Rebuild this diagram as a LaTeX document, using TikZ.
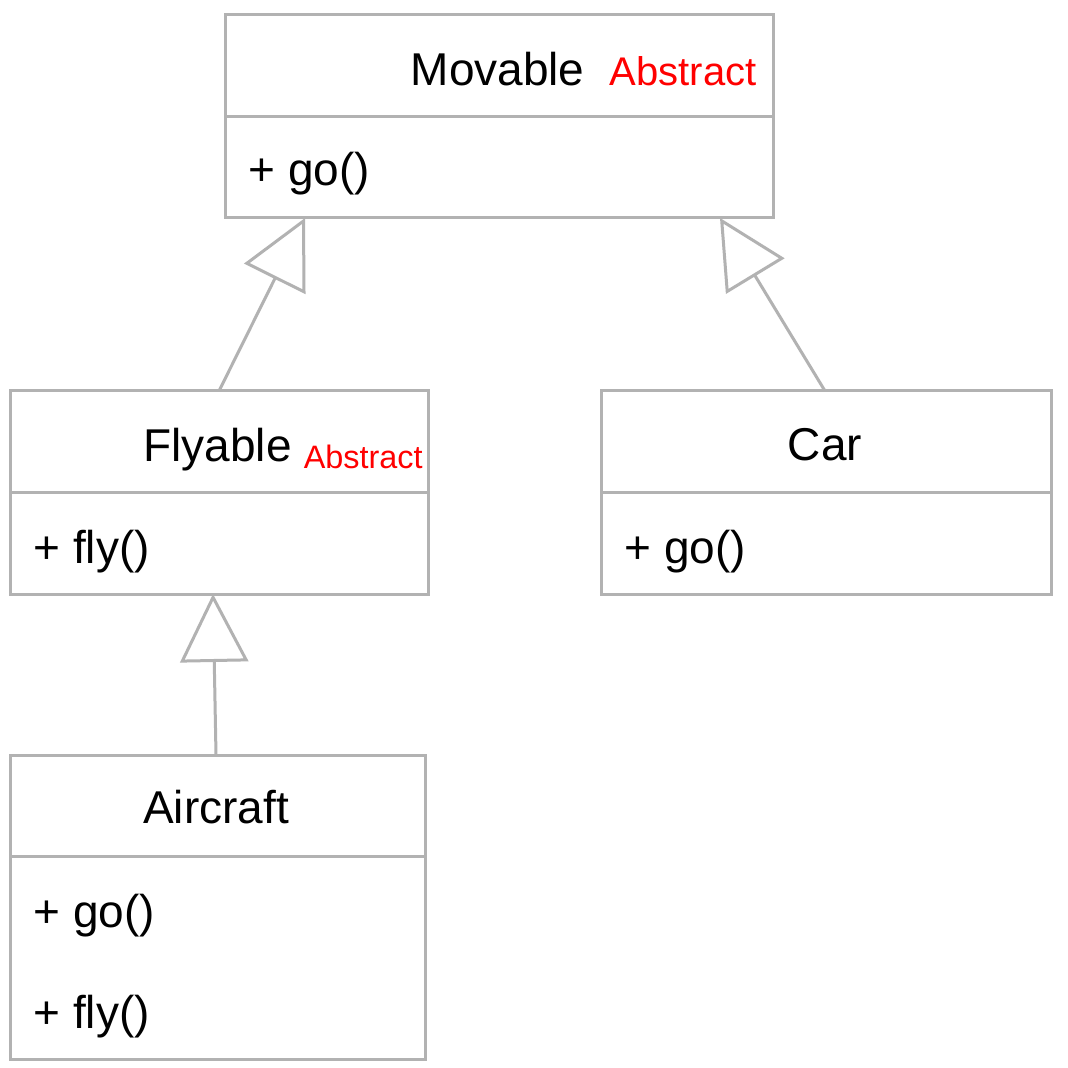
\documentclass[tikz,border=0pt]{standalone}
\usepackage{fontspec}
\setmainfont{Liberation Sans}
\usetikzlibrary{arrows.meta,calc}
\definecolor{umlgray}{RGB}{178,178,178}
\definecolor{absred}{RGB}{255,0,0}
\begin{document}
\begin{tikzpicture}[x=0.5pt,y=-0.5pt,
  classbox/.style={draw=umlgray,line width=1.5pt,rectangle,inner sep=0pt,outer sep=0pt,anchor=north west},
  divider/.style={draw=umlgray,line width=1.5pt},
  titletext/.style={inner sep=0pt,font=\fontsize{23pt}{27pt}\selectfont,text=black},
  membertext/.style={inner sep=0pt,anchor=base west,font=\fontsize{23pt}{27pt}\selectfont,text=black},
  absbig/.style={inner sep=0pt,anchor=base east,font=\fontsize{20pt}{24pt}\selectfont,text=absred},
  abssmall/.style={inner sep=0pt,anchor=base east,font=\fontsize{16.2pt}{20pt}\selectfont,text=absred},
  inherit/.style={draw=umlgray,line width=1.5pt,-{Triangle[open,length=34pt,width=34pt,line width=1.5pt]}}]
\fill[white] (0,0) rectangle (1067,1068);
\useasboundingbox (0,0) rectangle (1067,1068);

% Movable
\node[classbox,minimum width=274pt,minimum height=101.5pt] (mov) at (225,15) {};
\draw[divider] ($(mov.north west)+(0,102)$) -- ($(mov.north east)+(0,102)$);
\node[titletext,anchor=base east] (movT) at (585,86) {Movable};
\node[absbig] (movA) at (757,86) {Abstract};
\node[membertext] (movM) at (248,186) {+ go()};

% Flyable
\node[classbox,minimum width=209pt,minimum height=101.5pt] (fly) at (10,391) {};
\draw[divider] ($(fly.north west)+(0,101)$) -- ($(fly.north east)+(0,101)$);
\node[titletext,anchor=base east] (flyT) at (292,461) {Flyable};
\node[abssmall] (flyA) at (423,468) {Abstract};
\node[membertext] (flyM) at (33,563) {+ fly()};

% Car
\node[classbox,minimum width=225pt,minimum height=101.5pt] (car) at (601,391) {};
\draw[divider] ($(car.north west)+(0,101)$) -- ($(car.north east)+(0,101)$);
\node[titletext,anchor=base] (carT) at (825,460) {Car};
\node[membertext] (carM) at (624,563) {+ go()};

% Aircraft
\node[classbox,minimum width=207.5pt,minimum height=152pt] (air) at (10,755) {};
\draw[divider] ($(air.north west)+(0,101)$) -- ($(air.north east)+(0,101)$);
\node[titletext,anchor=base] (airT) at (216,823) {Aircraft};
\node[membertext] (airM1) at (33,927) {+ go()};
\node[membertext] (airM2) at (33,1028) {+ fly()};

% Inheritance connectors
\draw[inherit] ($(fly.north west)+(209,0)$) -- ($(mov.south west)+(80,0)$);
\draw[inherit] ($(car.north west)+(224,0)$) -- ($(mov.south west)+(495,0)$);
\draw[inherit] ($(air.north west)+(206,0)$) -- ($(fly.south west)+(203,0)$);
\end{tikzpicture}
\end{document}
